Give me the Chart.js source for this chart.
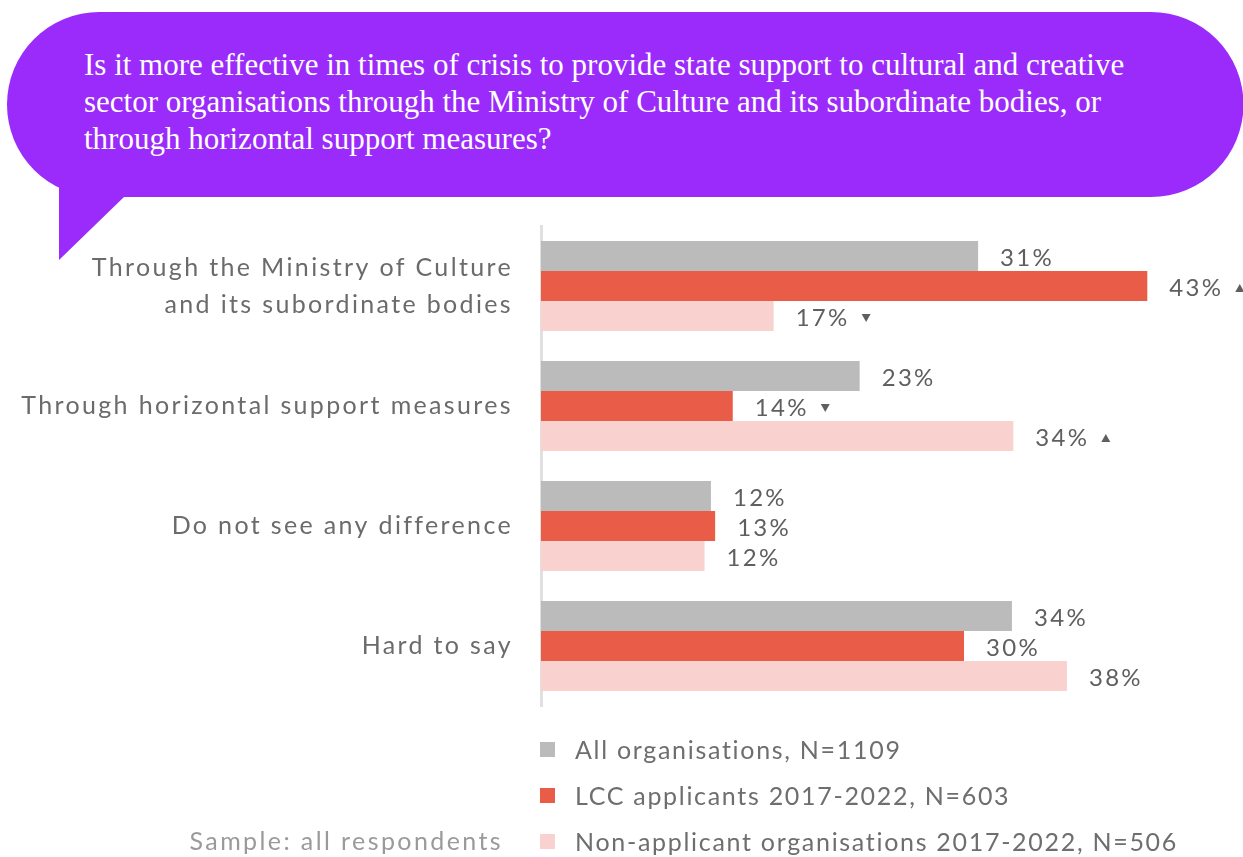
<!DOCTYPE html>
<html>
<head>
<meta charset="utf-8">
<script src="https://cdn.jsdelivr.net/npm/chart.js@4.4.1/dist/chart.umd.min.js"></script>
<style>
  html, body { margin: 0; padding: 0; background: #fff; overflow: hidden; }
  body { width: 1243px; height: 857px; position: relative; }
  #bubble { position: absolute; left: 0; top: 0; }
  #question {
    position: absolute; left: 84px; top: 46px; width: 1140px;
    font-family: "Liberation Serif", serif; font-size: 31px; line-height: 37px;
    color: #fff; white-space: nowrap;
  }
  #wrap { position: absolute; left: 0; top: 0; width: 1250px; height: 857px; }
  #legend { position: absolute; left: 540px; top: 726px; font-family: Lato, sans-serif; }
  .leg { height: 46px; display: flex; align-items: center; font-size: 25px; color: #6e6e6e; letter-spacing: 1.7px; }
  .leg span.box { width: 15px; height: 15px; margin-right: 20px; display: inline-block; }
  #sample { position: absolute; right: 740px; top: 825px; font-family: Lato, sans-serif; font-size: 25px; color: #9a9a9a; letter-spacing: 2.4px; }
</style>
</head>
<body>
<svg id="bubble" width="1243" height="270">
  <path d="M99 12 H1151 A92.5 92.5 0 0 1 1151 197 H124 L59 260 V150 L70 150 A92.5 92.5 0 0 1 99 12 Z" fill="#9b2bfa"/>
  <rect x="7" y="12" width="200" height="185" rx="92.5" fill="#9b2bfa"/>
</svg>
<div id="question">Is it more effective in times of crisis to provide state support to cultural and creative<br>sector organisations through the Ministry of Culture and its subordinate bodies, or<br>through horizontal support measures?</div>
<div id="wrap"><canvas id="myChart"></canvas></div>
<div id="legend"></div>
<div id="sample">Sample: all respondents</div>
<script>
const categories = [
  ["Through the Ministry of Culture", "and its subordinate bodies"],
  "Through horizontal support measures",
  "Do not see any difference",
  "Hard to say"
];
const seriesNames = [
  "All organisations, N=1109",
  "LCC applicants 2017-2022, N=603",
  "Non-applicant organisations 2017-2022, N=506"
];
const allOrgs = [31.0, 22.6, 12.05, 33.4];
const lccApplicants = [43.0, 13.6, 12.35, 30.0];
const nonApplicants = [16.5, 33.5, 11.6, 37.3];
const allLabels = ["31%", "23%", "12%", "34%"];
const lccLabels = ["43%", "14%", "13%", "30%"];
const nonLabels = ["17%", "34%", "12%", "38%"];
// significance markers: 1 = higher, -1 = lower
const lccMarks = [1, -1, 0, 0];
const nonMarks = [-1, 1, 0, 0];
const colors = ["#bbbbbb", "#e95c47", "#f9d1cf"];

const valueLabels = {
  id: "valueLabels",
  afterDatasetsDraw(chart) {
    const ctx = chart.ctx;
    ctx.save();
    ctx.font = "24px Lato, sans-serif";
    ctx.letterSpacing = "2.3px";
    ctx.fillStyle = "#5f5f5f";
    ctx.textBaseline = "middle";
    ctx.textAlign = "left";
    chart.data.datasets.forEach((ds, di) => {
      chart.getDatasetMeta(di).data.forEach((bar, i) => {
        const txt = ds.labelsText[i];
        const x = bar.x + 22;
        const y = bar.y + 2;
        ctx.fillText(txt, x, y);
        const m = ds.marks ? ds.marks[i] : 0;
        if (m) {
          const tx = x + ctx.measureText(txt).width + 12;
          ctx.beginPath();
          if (m > 0) {
            ctx.moveTo(tx, y + 4); ctx.lineTo(tx + 9, y + 4); ctx.lineTo(tx + 4.5, y - 4);
          } else {
            ctx.moveTo(tx, y - 4); ctx.lineTo(tx + 9, y - 4); ctx.lineTo(tx + 4.5, y + 4);
          }
          ctx.closePath();
          ctx.fill();
        }
      });
    });
    ctx.restore();
  }
};

const spacing = {
  id: "spacing",
  beforeDraw(chart) { chart.ctx.letterSpacing = "2.35px"; }
};

const ctx = document.getElementById("myChart").getContext("2d");
const myChart = new Chart(ctx, {
  type: "bar",
  data: {
    labels: categories,
    datasets: [
      { label: seriesNames[0], data: allOrgs, backgroundColor: colors[0], labelsText: allLabels },
      { label: seriesNames[1], data: lccApplicants, backgroundColor: colors[1], labelsText: lccLabels, marks: lccMarks },
      { label: seriesNames[2], data: nonApplicants, backgroundColor: colors[2], labelsText: nonLabels, marks: nonMarks }
    ]
  },
  options: {
    indexAxis: "y",
    responsive: true,
    maintainAspectRatio: false,
    animation: false,
    events: [],
    layout: { padding: { top: 226, bottom: 151, left: 0, right: 4 } },
    datasets: { bar: { categoryPercentage: 0.75, barPercentage: 1.0 } },
    plugins: { legend: { display: false }, tooltip: { enabled: false } },
    scales: {
      x: { display: false, min: 0, max: 50 },
      y: {
        afterFit: (scale) => { scale.width = 541; },
        grid: { display: false, drawTicks: false },
        border: { display: true, color: "#e0e0e0", width: 3 },
        ticks: {
          color: "#6b6b6b",
          padding: 28,
          font: { family: "Lato, sans-serif", size: 25, lineHeight: 1.48 }
        }
      }
    }
  },
  plugins: [spacing, valueLabels]
});

// legend built from the series
const legend = document.getElementById("legend");
seriesNames.forEach((name, i) => {
  const row = document.createElement("div");
  row.className = "leg";
  row.innerHTML = '<span class="box" style="background:' + colors[i] + '"></span>' + name;
  legend.appendChild(row);
});
</script>
</body>
</html>
